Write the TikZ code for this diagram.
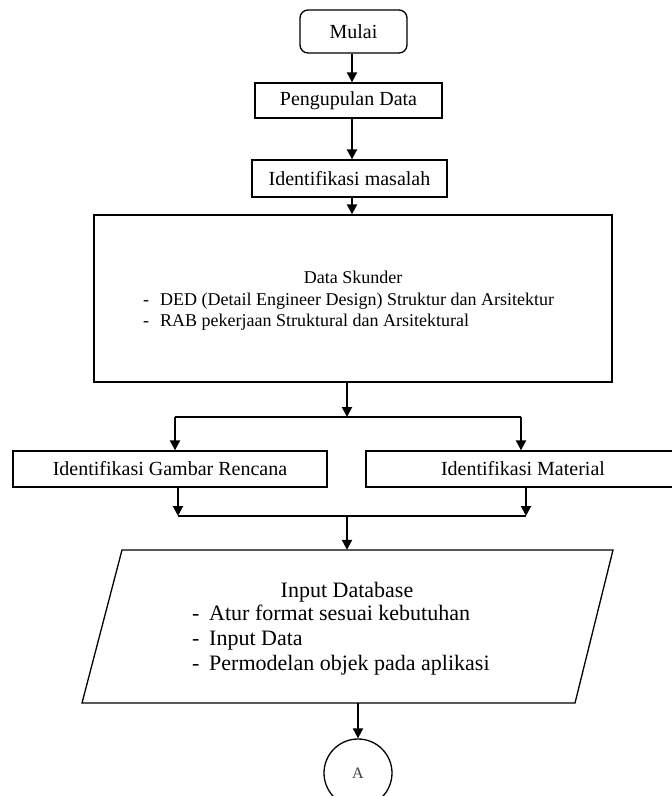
\documentclass[tikz,border=0pt]{standalone}
\usepackage{fontspec}
\setmainfont{Liberation Serif}
\usetikzlibrary{arrows.meta,shapes.geometric}
\begin{document}
\begin{tikzpicture}[x=1pt,y=-1pt,
  box/.style={draw,line width=1.3pt,inner sep=0pt,font=\fontsize{20}{23}\selectfont},
  arr/.style={line width=2pt,-{Triangle[length=10pt,width=10pt]}},
  ln/.style={line width=1.8pt},
  smalltxt/.style={inner sep=0pt,font=\fontsize{18}{21}\selectfont},
  bigtxt/.style={inner sep=0pt,font=\fontsize{22}{25}\selectfont}]
\useasboundingbox (0,0) rectangle (672,796);
\clip (0,0) rectangle (672,796);
% column coordinates
\coordinate (col) at (352,0);
% nodes
\node[box,rounded corners=8pt,minimum width=107pt,minimum height=43pt] (mulai) at (353.5,31.5) {Mulai};
\node[box,minimum width=187pt,minimum height=35pt] (kumpul) at (348.5,100.5) {Pengupulan Data};
\node[box,minimum width=195pt,minimum height=37pt] (ident) at (349.5,178.5) {Identifikasi masalah};
\node[box,minimum width=518pt,minimum height=167pt] (data) at (353,298.5) {};
\node[smalltxt,anchor=base] (ds) at (353,283) {Data Skunder};
\node[smalltxt,anchor=base west] (ded) at (143,305) {\makebox[17pt][l]{-}DED (Detail Engineer Design) Struktur dan Arsitektur};
\node[smalltxt,anchor=base west] (rab) at (143,326.5) {\makebox[17pt][l]{-}RAB pekerjaan Struktural dan Arsitektural};
\node[box,minimum width=314pt,minimum height=36pt] (gbr) at (170,469) {Identifikasi Gambar Rencana};
\node[box,minimum width=314pt,minimum height=36pt] (mat) at (523,469) {Identifikasi Material};
% parallelogram
\node[inner sep=0pt,minimum width=491pt,minimum height=153pt] (inp) at (348,626.5) {};
\coordinate (pTL) at (122,550);
\coordinate (pTR) at (613,550);
\coordinate (pBR) at (575,703);
\coordinate (pBL) at (82,703);
\draw[line width=1.3pt,line join=miter] (pTL) -- (pTR) -- (pBR) -- (pBL) -- cycle;
\node[bigtxt,anchor=base] (idb) at (347,597) {Input Database};
\node[bigtxt,anchor=base west] (l1) at (192,620) {\makebox[17pt][l]{-}Atur format sesuai kebutuhan};
\node[bigtxt,anchor=base west] (l2) at (192,645) {\makebox[17pt][l]{-}Input Data};
\node[bigtxt,anchor=base west] (l3) at (192,670) {\makebox[17pt][l]{-}Permodelan objek pada aplikasi};
\node[draw,circle,line width=1.3pt,minimum size=68pt,inner sep=0pt,text=black!75,font=\fontsize{16}{18}\selectfont] (circ) at (358,773) {A};
% connectors
\draw[arr] (mulai.south -| col) -- (kumpul.north -| col);
\draw[arr] (kumpul.south -| col) -- (ident.north -| col);
\draw[arr] (ident.south -| col) -- (data.north -| col);
\coordinate (sp) at (347,417);
\coordinate (spL) at (175,417);
\coordinate (spR) at (521,417);
\draw[ln] (spL) -- (spR);
\draw[arr] (data.south -| sp) -- (sp);
\draw[arr] (spL) -- (spL |- gbr.north);
\draw[arr] (spR) -- (spR |- mat.north);
\coordinate (jL) at (178,516);
\coordinate (jR) at (526,516);
\coordinate (jM) at (347,516);
\draw[ln] (jL) -- (jR);
\draw[arr] (gbr.south -| jL) -- (jL);
\draw[arr] (mat.south -| jR) -- (jR);
\draw[arr] (jM) -- (jM |- inp.north);
\draw[arr] (inp.south -| circ) -- (circ.north);
\end{tikzpicture}
\end{document}
